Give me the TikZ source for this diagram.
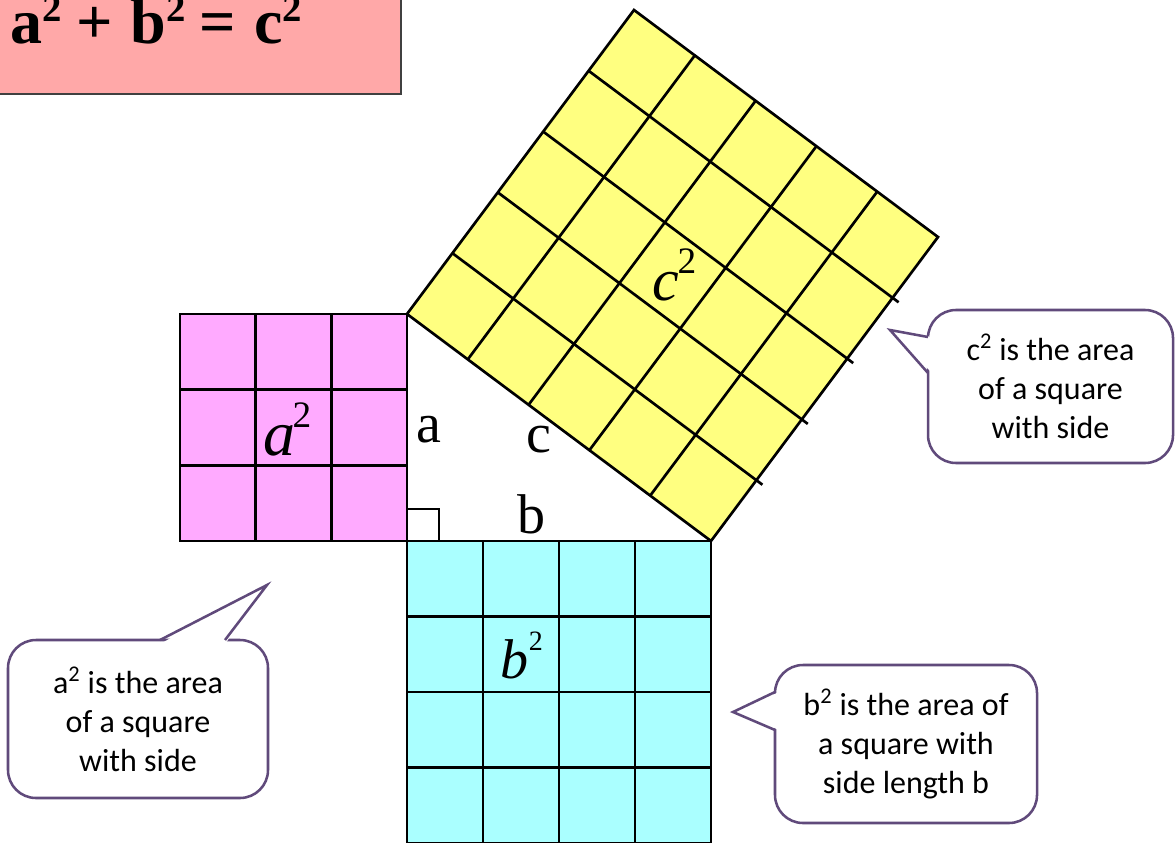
\documentclass[tikz,border=0pt]{standalone}
\usepackage{fontspec}
\setmainfont{Liberation Serif}
\newfontfamily\calfont{Carlito}
\usetikzlibrary{calc}
\definecolor{asqc}{RGB}{255,170,255}
\definecolor{bsqc}{RGB}{170,255,255}
\definecolor{csqc}{RGB}{255,255,128}
\definecolor{titlec}{RGB}{255,168,168}
\definecolor{callc}{RGB}{96,74,123}
\newcommand\tsup[1]{\raisebox{16.5pt}{\fontsize{29}{29}\selectfont #1}}
\newcommand\msup[3]{\raisebox{#2}{\fontsize{#1}{#1}\selectfont\upshape #3}}
\tikzset{
  sqline/.style={line width=2pt, draw=black, line join=miter},
  gridline/.style={line width=2pt, draw=black},
  callbox/.style={draw=callc, line width=1.9pt, fill=white, rounded corners=21pt,
    outer sep=0pt, inner sep=0pt, align=center,
    font=\calfont\fontsize{24}{29.25}\selectfont},
  callline/.style={draw=callc, line width=1.9pt, line join=miter},
  sidelabel/.style={anchor=base west, inner sep=0pt, font=\fontsize{42}{42}\selectfont},
  mathlabel/.style={anchor=base west, inner sep=0pt}
}
\begin{document}
\begin{tikzpicture}[x=0.75pt, y=-0.75pt]
\clip (0,0) rectangle (1176,842);
\fill[white] (0,0) rectangle (1176,842);

% title
\filldraw[fill=titlec, draw=black!75, line width=1.5pt] (-10,-10) rectangle (401,94);
\node[anchor=base west, inner sep=0pt, font=\fontsize{48}{48}\selectfont\bfseries] (title) at (10,44)
  {a\tsup{2}\hspace{11pt}+\hspace{13.5pt}b\tsup{2}\hspace{10.5pt}=\hspace{13.5pt}c\tsup{2}};

% c square
\coordinate (P0) at (407,314);
\coordinate (P1) at (711,541);
\coordinate (P2) at (938,237);
\coordinate (P3) at (634,10);
\fill[csqc] (P0) -- (P1) -- (P2) -- (P3) -- cycle;
\foreach \i in {1,...,4}{
  \draw[gridline] ({407+45.4*\i},{314-60.8*\i}) -- ++(310,231.5);
  \draw[gridline] ({407+60.8*\i},{314+45.4*\i}) -- ++(227,-304);
}
\draw[sqline] (P0) -- (P1) -- (P2) -- (P3) -- cycle;

% a square
\fill[asqc] (180,314) rectangle (407,541);
\foreach \i in {1,2}{
  \draw[gridline] ({180+75.67*\i},314) -- ++(0,227);
  \draw[gridline] (180,{314+75.67*\i}) -- ++(227,0);
}
\draw[sqline] (180,314) rectangle (407,541);

% b square
\fill[bsqc] (407,541) rectangle (711,843);
\foreach \i in {1,2,3}{
  \draw[gridline] ({407+76*\i},541) -- (407+76*\i,843);
  \draw[gridline] (407,{541+75.5*\i}) -- ++(304,0);
}
\draw[sqline] (407,541) rectangle (711,843);

% right angle mark
\draw[line width=1.4pt] (407,509) rectangle (439,541);

% side labels
\node[sidelabel] (la) at (416,442) {a};
\node[sidelabel] (lc) at (526,452) {c};
\node[sidelabel] (lb) at (517,533) {b};

% area labels
\node[mathlabel, font=\fontsize{48}{48}\selectfont\itshape] (asq) at (263,455)
  {a\kern-2pt\msup{28}{21pt}{2}};
\node[mathlabel, font=\fontsize{42}{42}\selectfont\itshape] (bsq) at (500,678)
  {b\kern0.5pt\msup{21}{21pt}{2}};
\node[mathlabel, font=\fontsize{45}{45}\selectfont\itshape] (csq) at (652,300)
  {c\kern-1pt\msup{28}{20pt}{2}};

% callout a
\node[callbox, minimum width=195pt, minimum height=118.5pt] (ca) at (138,719)
  {a\textsuperscript{2} is the area\\of a square\\with side};
\coordinate (ta) at (267,585);
\fill[white] ($(ca.north west)+(152,4)$) -- (ta) -- ($(ca.north west)+(217,4)$) -- cycle;
\draw[callline] ($(ca.north west)+(152,0)$) -- (ta) -- ($(ca.north west)+(217,0)$);

% callout b
\node[callbox, minimum width=196.5pt, minimum height=118.5pt] (cb) at (906,744)
  {b\textsuperscript{2} is the area of\\a square with\\side length b};
\coordinate (tb) at (733,712);
\fill[white] ($(cb.north west)+(4,27)$) -- (tb) -- ($(cb.north west)+(4,65)$) -- cycle;
\draw[callline] ($(cb.north west)+(0,27)$) -- (tb) -- ($(cb.north west)+(0,65)$);

% callout c
\node[callbox, minimum width=183.75pt, minimum height=114.75pt] (cc) at (1050.5,386.5)
  {c\textsuperscript{2} is the area\\of a square\\with side};
\coordinate (tc) at (890,330);
\fill[white] ($(cc.north west)+(4,27)$) -- (tc) -- ($(cc.north west)+(4,63)$) -- cycle;
\draw[callline] ($(cc.north west)+(0,27)$) -- (tc) -- ($(cc.north west)+(0,63)$);
\end{tikzpicture}
\end{document}
